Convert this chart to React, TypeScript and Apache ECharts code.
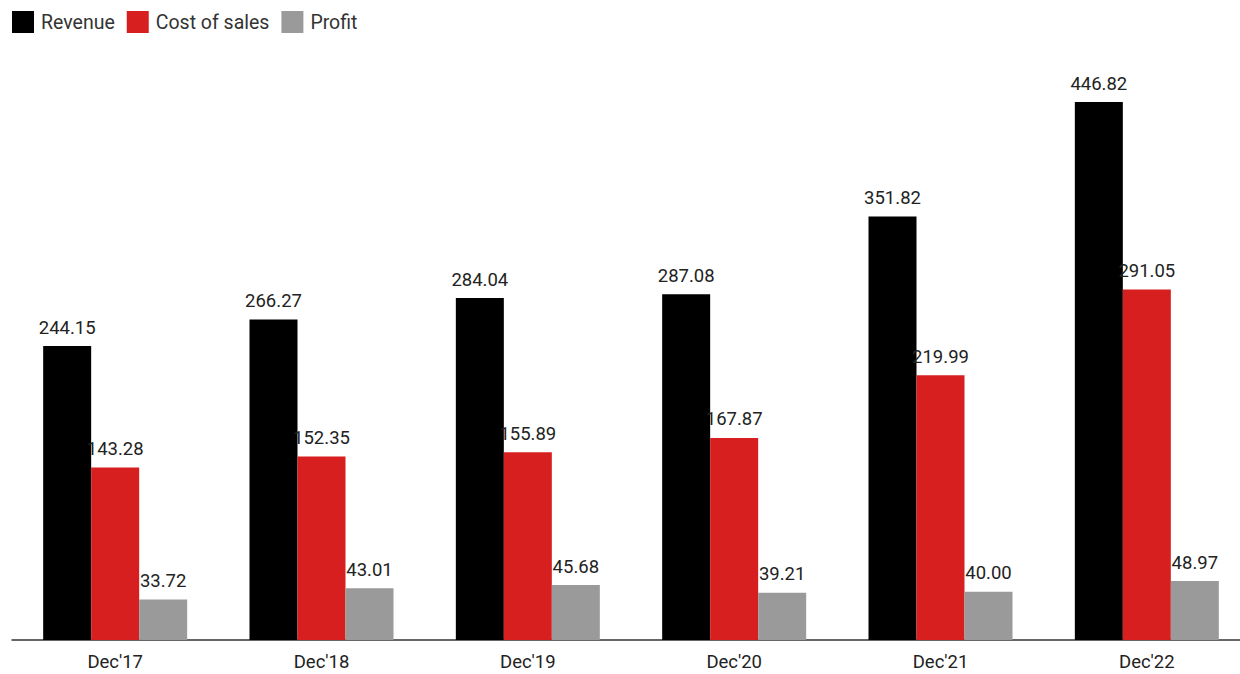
import React, { useEffect, useRef } from "react";
import * as echarts from "echarts";

const categories = ["Dec'17", "Dec'18", "Dec'19", "Dec'20", "Dec'21", "Dec'22"];
const revenue = [244.15, 266.27, 284.04, 287.08, 351.82, 446.82];
const costOfSales = [143.28, 152.35, 155.89, 167.87, 219.99, 291.05];
const profit = [33.72, 43.01, 45.68, 39.21, 40.0, 48.97];

const FONT = "Roboto, 'Noto Sans', sans-serif";

export default function App() {
  const ref = useRef<HTMLDivElement>(null);
  useEffect(() => {
    document.body.style.margin = "0";
    document.body.style.overflow = "hidden";
    const chart = echarts.init(ref.current!, null, { renderer: "svg" });
    const label = {
      show: true,
      position: "top" as const,
      distance: 9,
      color: "#222",
      fontSize: 18.5,
      fontFamily: FONT,
      formatter: (p: any) => Number(p.value).toFixed(2),
    };
    chart.setOption({
      animation: false,
      textStyle: { fontFamily: FONT },
      legend: {
        left: 7,
        top: 6,
        itemWidth: 22,
        itemHeight: 22,
        itemGap: 12,
        icon: "rect",
        textStyle: { fontSize: 19.5, color: "#333", fontFamily: FONT, padding: [0, 0, 0, 2] },
        data: ["Revenue", "Cost of sales", "Profit"],
      },
      grid: { left: 12, right: 0, top: 38, bottom: 34, containLabel: false },
      xAxis: {
        type: "category",
        data: categories,
        axisTick: { show: false },
        axisLine: { lineStyle: { color: "#333", width: 1.5 } },
        axisLabel: { color: "#222", fontSize: 18.5, fontFamily: FONT, margin: 12 },
      },
      yAxis: {
        type: "value",
        min: 0,
        max: 500,
        show: false,
        splitLine: { show: false },
      },
      series: [
        {
          name: "Revenue",
          type: "bar",
          data: revenue,
          barWidth: 48,
          barGap: "0%",
          itemStyle: { color: "#000000" },
          label,
        },
        {
          name: "Cost of sales",
          type: "bar",
          data: costOfSales,
          barWidth: 48,
          barGap: "0%",
          itemStyle: { color: "#d71f1f" },
          label,
        },
        {
          name: "Profit",
          type: "bar",
          data: profit,
          barWidth: 48,
          barGap: "0%",
          itemStyle: { color: "#9a9a9a" },
          label,
        },
      ],
    });
    return () => chart.dispose();
  }, []);
  return (
    <div style={{ width: 1240, height: 674, overflow: "hidden", position: "relative" }}>
      <div ref={ref} style={{ width: 1250, height: 674 }} />
    </div>
  );
}
